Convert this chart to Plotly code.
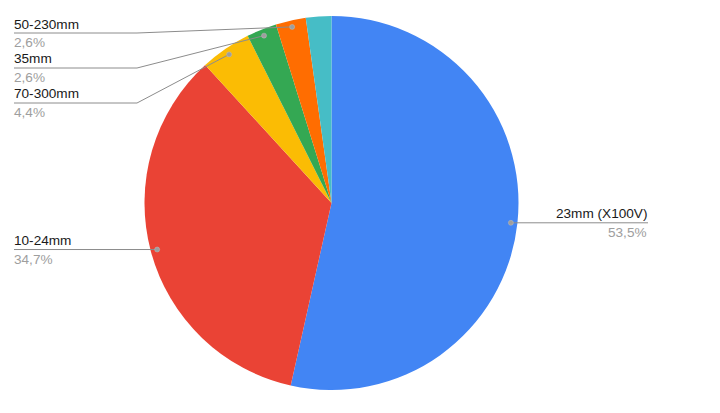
import math
import plotly.graph_objects as go

# ---- data ----
labels = ["23mm (X100V)", "10-24mm", "70-300mm", "35mm", "50-230mm", "Other"]
values = [53.5, 34.7, 4.4, 2.6, 2.6, 2.2]
colors = ["#4285F4", "#EA4335", "#FBBC04", "#34A853", "#FF6D01", "#46BDC6"]
show_label = [True, True, True, True, True, False]

# ---- layout constants (pixels) ----
W, H = 720, 413
cx, cy, R = 331.5, 203.0, 187.0
DOT_R = 0.965 * R
LEFT_X, RIGHT_X, BEND_X = 14, 648, 137
placement = {
    "23mm (X100V)": ("right", None),
    "10-24mm": ("left", None),
    "70-300mm": ("left", 103),
    "35mm": ("left", 68),
    "50-230mm": ("left", 33),
}

def px(x):
    return x / W

def py(y):
    return 1 - y / H

fig = go.Figure(go.Pie(
    labels=labels, values=values, sort=False, direction="clockwise", rotation=0,
    marker=dict(colors=colors, line=dict(width=0)),
    textinfo="none", hoverinfo="label+percent",
    domain=dict(x=[px(cx - R), px(cx + R)], y=[py(cy + R), py(cy - R)]),
))

total = sum(values)
cum = 0.0
shapes, annotations = [], []
LINE_COL = "#8c8c8c"
for lab, v, show in zip(labels, values, show_label):
    mid = (cum + v / 2) / total * 2 * math.pi
    cum += v
    if not show:
        continue
    dx, dy = cx + DOT_R * math.sin(mid), cy - DOT_R * math.cos(mid)
    side, ly = placement[lab]
    if ly is None:
        ly = dy
        end_x = RIGHT_X if side == "right" else LEFT_X
        path = f"M {px(dx)},{py(dy)} L {px(end_x)},{py(ly)}"
    else:
        end_x = LEFT_X
        path = (f"M {px(dx)},{py(dy)} L {px(BEND_X)},{py(ly)} "
                f"L {px(end_x)},{py(ly)}")
    shapes.append(dict(type="path", path=path, xref="paper", yref="paper",
                       line=dict(color=LINE_COL, width=1)))
    shapes.append(dict(type="circle", xref="paper", yref="paper",
                       x0=px(dx - 2.5), x1=px(dx + 2.5), y0=py(dy + 2.5), y1=py(dy - 2.5),
                       fillcolor="#9e9e9e", line=dict(color="#bdbdbd", width=0.5)))
    anchor = "right" if side == "right" else "left"
    pct = f"{v:.1f}".replace(".", ",") + "%"
    annotations.append(dict(x=px(end_x), y=py(ly - 9), xref="paper", yref="paper",
                            text=lab, showarrow=False, xanchor=anchor, yanchor="middle",
                            xshift=(1 if side == "right" else -2),
                            font=dict(size=13.6, color="#1a1a1a")))
    annotations.append(dict(x=px(end_x), y=py(ly + 10), xref="paper", yref="paper",
                            text=pct, showarrow=False, xanchor=anchor, yanchor="middle",
                            xshift=(1 if side == "right" else -2),
                            font=dict(size=13.6, color="#9e9e9e")))

fig.update_layout(
    width=W, height=H, margin=dict(l=0, r=0, t=0, b=0),
    paper_bgcolor="white", plot_bgcolor="white", showlegend=False,
    font=dict(family="Liberation Sans, Arial, sans-serif"),
    shapes=shapes, annotations=annotations,
)

fig.write_html("out.html", config={"displayModeBar": False},
               post_script="document.body.style.margin='0';")
